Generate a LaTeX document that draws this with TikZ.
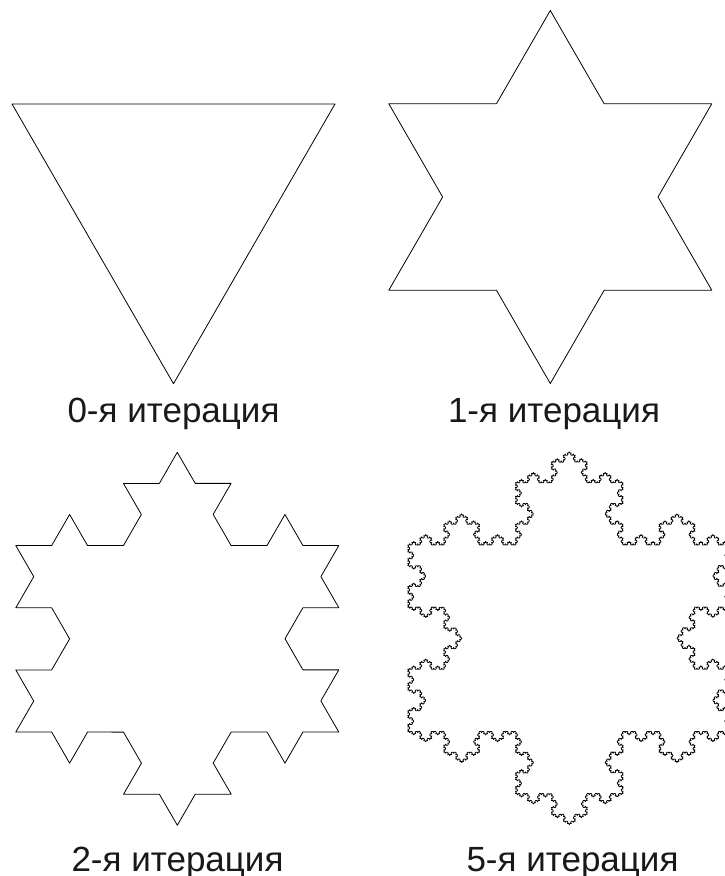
\documentclass[tikz,border=0pt]{standalone}
\usepackage{fontspec}
\setmainfont{Liberation Sans}
\usetikzlibrary{calc,decorations.fractals}
\tikzset{
  koch/.style={draw=black, line width=0.8pt, line join=round, line cap=round},
  lbl/.style={anchor=base, inner sep=0pt, text=black!90, font=\fontsize{35}{40}\selectfont}
}
\begin{document}
\begin{tikzpicture}[x=1pt,y=1pt]
\useasboundingbox (0,0) rectangle (725,876);
\clip (0,0) rectangle (725,876);
% iteration 0
\coordinate (c0) at (173.5,678.8);
\coordinate (a0) at ($(c0)+(150:186.5)$);
\coordinate (b0) at ($(c0)+(30:186.5)$);
\coordinate (d0) at ($(c0)+(270:186.5)$);
\draw[koch] (a0) -- (b0) -- (d0) -- cycle;
% iteration 1
\coordinate (c1) at (550.3,679);
\coordinate (a1) at ($(c1)+(150:186.5)$);
\coordinate (b1) at ($(c1)+(30:186.5)$);
\coordinate (d1) at ($(c1)+(270:186.5)$);
\draw[koch, decoration=Koch snowflake] decorate{ (a1) -- (b1) -- (d1) -- (a1) };
% iteration 2
\coordinate (c2) at (177.3,237.2);
\coordinate (a2) at ($(c2)+(150:186.5)$);
\coordinate (b2) at ($(c2)+(30:186.5)$);
\coordinate (d2) at ($(c2)+(270:186.5)$);
\draw[koch, decoration=Koch snowflake] decorate{ decorate{ (a2) -- (b2) -- (d2) -- (a2) } };
% iteration 5
\coordinate (c5) at (569.3,237.8);
\coordinate (a5) at ($(c5)+(150:186.5)$);
\coordinate (b5) at ($(c5)+(30:186.5)$);
\coordinate (d5) at ($(c5)+(270:186.5)$);
\draw[koch, decoration=Koch snowflake] decorate{ decorate{ decorate{ decorate{ decorate{ (a5) -- (b5) -- (d5) -- (a5) } } } } };
% labels
\node[lbl] (t0) at (173.5,453) {0-я итерация};
\node[lbl] (t1) at (554,453) {1-я итерация};
\node[lbl] (t2) at (177.5,5) {2-я итерация};
\node[lbl] (t5) at (572.5,5) {5-я итерация};
\end{tikzpicture}
\end{document}
